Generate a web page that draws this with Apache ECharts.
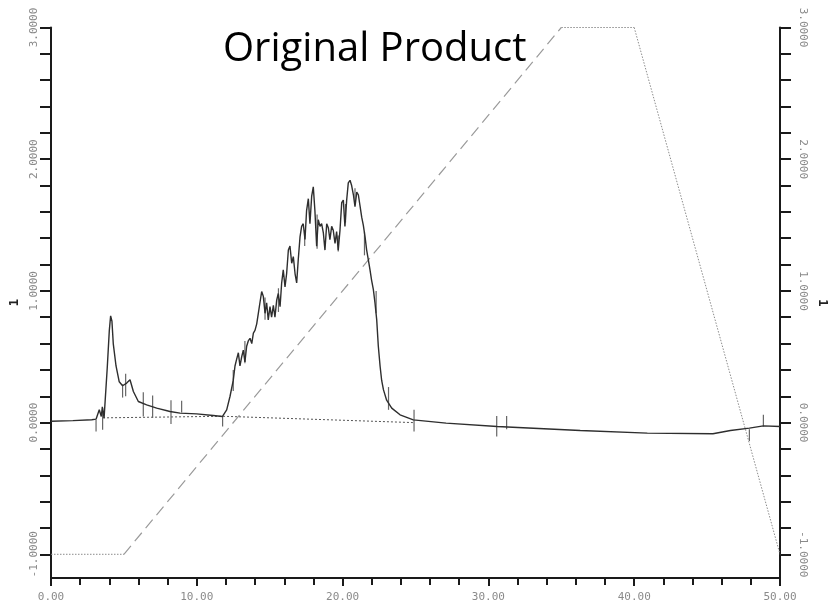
<!DOCTYPE html>
<html>
<head>
<meta charset="utf-8">
<script src="https://cdn.jsdelivr.net/npm/echarts@6/dist/echarts.min.js"></script>
<style>
  html, body { margin: 0; padding: 0; background: #ffffff; }
  #chart { width: 837px; height: 613px; }
</style>
</head>
<body>
<div id="chart"></div>
<script>
// Chromatogram trace: retention time (min) and absorbance
const traceTime = [
  0, 1.5, 2.8, 3.09, 3.31, 3.45, 3.52, 3.64, 3.86, 4.0, 4.09, 4.18, 4.27, 4.46, 4.68, 4.91,
  5.19, 5.42, 5.65, 5.99, 6.56, 7.25, 8.16, 8.85, 9.99, 11.13, 11.75,
  12.05, 12.28, 12.5, 12.62, 12.73, 12.85, 12.96, 13.08, 13.19, 13.3, 13.42, 13.53, 13.65,
  13.77, 13.88, 13.99, 14.11, 14.22, 14.33, 14.45, 14.56, 14.68, 14.79, 14.9, 15.02, 15.13,
  15.25, 15.36, 15.48, 15.59, 15.71, 15.82, 15.93, 16.05, 16.16, 16.28, 16.39, 16.51, 16.62,
  16.74, 16.85, 16.96, 17.08, 17.19, 17.3, 17.42, 17.53, 17.65, 17.76, 17.88, 17.99, 18.1,
  18.22, 18.33, 18.45, 18.56, 18.68, 18.79, 18.91, 19.02, 19.13, 19.25, 19.36, 19.48, 19.59,
  19.7, 19.82, 19.94, 20.05, 20.16, 20.28, 20.39, 20.51, 20.62, 20.74, 20.85, 20.97, 21.08,
  21.19, 21.31, 21.42, 21.54, 21.65, 21.76, 21.88, 21.99, 22.11, 22.22, 22.34, 22.45, 22.57,
  22.68, 22.8, 23.02, 23.37, 23.94, 24.85, 27.1, 30.6, 36.3, 40.9, 45.4, 46.6, 47.9, 48.86, 50
];
const traceAbs = [
  0.01, 0.015, 0.022, 0.026, 0.097, 0.046, 0.12, 0.034, 0.42, 0.70, 0.81, 0.77, 0.60, 0.43, 0.31, 0.28,
  0.30, 0.325, 0.236, 0.16, 0.135, 0.11, 0.084, 0.072, 0.066, 0.054, 0.046,
  0.097, 0.20, 0.32, 0.43, 0.48, 0.53, 0.43, 0.50, 0.55, 0.46, 0.58, 0.62, 0.64,
  0.60, 0.68, 0.70, 0.75, 0.83, 0.91, 0.995, 0.96, 0.83, 0.91, 0.78, 0.88, 0.80,
  0.89, 0.80, 0.93, 0.98, 0.88, 1.06, 1.16, 1.03, 1.13, 1.31, 1.34, 1.21, 1.26,
  1.13, 1.06, 1.24, 1.41, 1.49, 1.51, 1.39, 1.61, 1.70, 1.51, 1.72, 1.79, 1.61,
  1.34, 1.54, 1.49, 1.51, 1.44, 1.31, 1.51, 1.48, 1.39, 1.49, 1.46, 1.36, 1.45,
  1.31, 1.46, 1.67, 1.69, 1.49, 1.69, 1.82, 1.84, 1.80, 1.73, 1.64, 1.75, 1.73,
  1.65, 1.56, 1.50, 1.41, 1.31, 1.24, 1.16, 1.08, 1.01, 0.91, 0.78, 0.58, 0.43,
  0.32, 0.25, 0.17, 0.11, 0.059, 0.021, -0.004, -0.03, -0.06, -0.08, -0.085, -0.06, -0.042, -0.025, -0.03
];

// Integration baseline drawn under the peaks
const baseTime = [3.57, 11.8, 24.85];
const baseAbs = [0.036, 0.048, 0.0];

// Gradient program (right axis scale)
const gradTime = [0, 5, 35, 40, 50];
const gradLevel = [-1, -1, 3, 3, -1];
// style of each gradient segment
const gradSegStyle = ['dotted', 'dashed', 'dotted', 'dotted'];

// Peak event marks: time, upper and lower end
const eventTime = [3.09, 3.54, 4.91, 5.12, 6.33, 6.97, 8.23, 8.96, 11.77,
  12.5, 13.3, 14.68, 15.6, 17.4, 18.25, 19.7, 20.2, 20.85,
  21.5, 22.3, 23.15, 24.9, 30.57, 31.25, 47.9, 48.86];
const eventTop = [0.02, 0.11, 0.29, 0.37, 0.23, 0.205, 0.17, 0.165, 0.051,
  0.40, 0.62, 0.95, 1.02, 1.46, 1.58, 1.42, 1.66, 1.78,
  1.45, 1.0, 0.27, 0.097, 0.05, 0.05, -0.05, 0.059];
const eventBottom = [-0.068, -0.055, 0.19, 0.20, 0.046, 0.034, -0.01, 0.077, -0.03,
  0.24, 0.45, 0.78, 0.84, 1.34, 1.32, 1.30, 1.52, 1.66,
  1.27, 0.83, 0.097, -0.068, -0.105, -0.05, -0.14, -0.03];

// Axis tick labels
const xTickLabels = [0, 10, 20, 30, 40, 50];
const yTickLabels = [-1, 0, 1, 2, 3];

const yMinor = [];
for (let i = 0; i <= 20; i++) yMinor.push(+(-1 + i * 0.2).toFixed(1));

const pair = (xs, ys) => xs.map((x, i) => [x, ys[i]]);

const labelFont = {
  color: '#8a8a8a',
  fontFamily: 'DejaVu Sans Mono',
  fontSize: 11
};

function yAxisCfg(side) {
  return {
    type: 'value',
    position: side,
    min: -1.18,
    max: 3,
    name: '1',
    nameLocation: 'middle',
    nameGap: side === 'left' ? 14 : 30,
    nameRotate: side === 'left' ? 90 : -90,
    nameTextStyle: { color: '#222', fontFamily: 'DejaVu Sans Mono', fontSize: 12, fontWeight: 'bold' },
    axisLine: { show: true, onZero: false, lineStyle: { color: '#1a1a1a', width: 2 } },
    axisTick: { show: true, customValues: yMinor, length: 11, lineStyle: { color: '#1a1a1a', width: 2 } },
    axisLabel: Object.assign({
      customValues: yTickLabels,
      rotate: side === 'left' ? 90 : -90,
      margin: side === 'left' ? 11 : 17,
      formatter: v => v.toFixed(4)
    }, labelFont),
    splitLine: { show: false }
  };
}

const gradSeries = gradSegStyle.map((st, i) => ({
  type: 'line',
  yAxisIndex: 1,
  data: [[gradTime[i], gradLevel[i]], [gradTime[i + 1], gradLevel[i + 1]]],
  showSymbol: false,
  symbol: 'none',
  silent: true,
  z: 1,
  lineStyle: st === 'dashed'
    ? { color: '#9a9a9a', width: 1.2, type: [11, 6] }
    : { color: '#8c8c8c', width: 1, type: [1.5, 1.5] }
}));

const chart = echarts.init(document.getElementById('chart'), null, { renderer: 'canvas' });
chart.setOption({
  animation: false,
  backgroundColor: '#ffffff',
  title: {
    text: 'Original Product',
    left: 218,
    top: 25,
    textStyle: { fontFamily: 'Open Sans', fontSize: 40, fontWeight: 'normal', color: '#000' }
  },
  grid: { left: 51, right: 57, top: 27.5, bottom: 35, containLabel: false },
  xAxis: {
    type: 'value',
    min: 0,
    max: 50,
    interval: 10,
    axisLine: { show: true, onZero: false, lineStyle: { color: '#1a1a1a', width: 2 } },
    axisTick: { show: true, length: 8, lineStyle: { color: '#1a1a1a', width: 2 } },
    minorTick: { show: true, splitNumber: 5, length: 7, lineStyle: { color: '#1a1a1a', width: 2 } },
    axisLabel: Object.assign({
      margin: 14,
      formatter: v => (xTickLabels.indexOf(v) >= 0 ? v.toFixed(2) : '')
    }, labelFont),
    splitLine: { show: false },
    minorSplitLine: { show: false }
  },
  yAxis: [yAxisCfg('left'), yAxisCfg('right')],
  series: gradSeries.concat([
    {
      type: 'line',
      data: pair(baseTime, baseAbs),
      showSymbol: false,
      symbol: 'none',
      z: 2,
      lineStyle: { color: '#555', width: 1, type: [2, 2] }
    },
    {
      type: 'custom',
      z: 3,
      data: eventTime.map((t, i) => [t, eventTop[i], eventBottom[i]]),
      renderItem: (params, api) => {
        const a = api.coord([api.value(0), api.value(1)]);
        const b = api.coord([api.value(0), api.value(2)]);
        return {
          type: 'line',
          shape: { x1: a[0], y1: a[1], x2: b[0], y2: b[1] },
          style: { stroke: '#666', lineWidth: 1.2 }
        };
      }
    },
    {
      type: 'line',
      data: pair(traceTime, traceAbs),
      showSymbol: false,
      symbol: 'none',
      z: 4,
      lineStyle: { color: '#2e2e2e', width: 1.4 }
    }
  ])
});
</script>
</body>
</html>
